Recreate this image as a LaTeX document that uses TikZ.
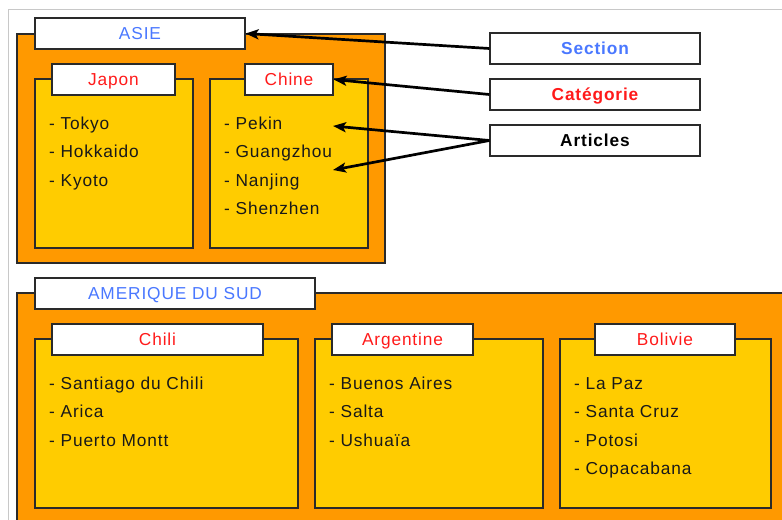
\documentclass[tikz,border=0pt]{standalone}
\usepackage{fontspec}
\setmainfont[LetterSpace=5]{Liberation Sans}
\usetikzlibrary{arrows.meta}
\definecolor{orangebg}{HTML}{FF9900}
\definecolor{yellowbg}{HTML}{FFCC00}
\definecolor{secblue}{HTML}{4A78FF}
\definecolor{catred}{HTML}{FF1A1A}
\definecolor{edgecol}{HTML}{2A2A2A}
\definecolor{framegray}{HTML}{C8C8C8}
\newcommand\diafont{\fontsize{17.3bp}{20bp}\selectfont}
\tikzset{
  region/.style={draw=edgecol, line width=1.2bp, fill=orangebg, inner sep=0pt},
  catbox/.style={draw=edgecol, line width=1.2bp, fill=yellowbg, inner sep=0pt},
  tagbox/.style={draw=edgecol, line width=1.2bp, fill=white, minimum height=31bp,
    inner sep=0pt, text height=12bp, text depth=0pt, font=\diafont},
  secttag/.style={tagbox, text=secblue},
  cattag/.style={tagbox, text=catred},
  legendbox/.style={tagbox, minimum width=210bp, font=\diafont\bfseries},
  item/.style={anchor=base west, inner sep=0pt, font=\diafont, text=black!90},
  pointer/.style={line width=2.7bp, -{Stealth[length=13bp,width=10bp,inset=3bp]}}
}
\begin{document}
\begin{tikzpicture}[x=1bp,y=-1bp]
\useasboundingbox (0,0) rectangle (782,520);
\clip (0,0) rectangle (782,520);
\fill[white] (0,0) rectangle (782,520);
\draw[framegray, line width=1bp] (8,530) -- (8,10) -- (790,10);

% ASIE
\node[region, minimum width=368bp, minimum height=229bp] (asiebg) at (201,148.5) {};
\node[catbox, minimum width=158bp, minimum height=169bp] (japonbg) at (114,163.5) {};
\node[catbox, minimum width=158bp, minimum height=169bp] (chinebg) at (289,163.5) {};
\node[secttag, minimum width=210bp] (asie) at (140,33.5) {ASIE};
\node[cattag, minimum width=123bp] (japon) at (113.5,79.5) {Japon};
\node[cattag, minimum width=88bp] (chine) at (289,79.5) {Chine};

\node[item] (jp1) at (49,129.5) {- Tokyo};
\node[item] (jp2) at (49,157.9) {- Hokkaido};
\node[item] (jp3) at (49,186.3) {- Kyoto};
\node[item] (cn1) at (224,129.5) {- Pekin};
\node[item] (cn2) at (224,157.9) {- Guangzhou};
\node[item] (cn3) at (224,186.3) {- Nanjing};
\node[item] (cn4) at (224,214.7) {- Shenzhen};

% AMERIQUE DU SUD
\node[region, minimum width=783bp, minimum height=247bp] (amebg) at (408.5,416.5) {};
\node[catbox, minimum width=263bp, minimum height=169bp] (chilibg) at (166.5,423.5) {};
\node[catbox, minimum width=228bp, minimum height=169bp] (argbg) at (429,423.5) {};
\node[catbox, minimum width=211bp, minimum height=169bp] (bolbg) at (665.5,423.5) {};
\node[secttag, minimum width=280bp] (ame) at (175,293.5) {AMERIQUE DU SUD};
\node[cattag, minimum width=211bp] (chili) at (157.5,339.5) {Chili};
\node[cattag, minimum width=141bp] (arg) at (402.5,339.5) {Argentine};
\node[cattag, minimum width=140bp] (bol) at (665,339.5) {Bolivie};

\node[item] (cl1) at (49,389.5) {- Santiago du Chili};
\node[item] (cl2) at (49,417.9) {- Arica};
\node[item] (cl3) at (49,446.3) {- Puerto Montt};
\node[item] (ar1) at (329,389.5) {- Buenos Aires};
\node[item] (ar2) at (329,417.9) {- Salta};
\node[item] (ar3) at (329,446.3) {- Ushuaïa};
\node[item] (bo1) at (574,389.5) {- La Paz};
\node[item] (bo2) at (574,417.9) {- Santa Cruz};
\node[item] (bo3) at (574,446.3) {- Potosi};
\node[item] (bo4) at (574,474.7) {- Copacabana};

% Legend
\node[legendbox, text=secblue] (section) at (595,48.5) {Section};
\node[legendbox, text=catred] (categorie) at (595,94.5) {Catégorie};
\node[legendbox, text=black] (articles) at (595,140.5) {Articles};

\coordinate (artA) at (333,126);
\coordinate (artB) at (333,170);

\draw[pointer] (section.west) -- (asie.east);
\draw[pointer] (categorie.west) -- (chine.east);
\draw[pointer] (articles.west) -- (artA);
\draw[pointer] (articles.west) -- (artB);
\end{tikzpicture}
\end{document}
